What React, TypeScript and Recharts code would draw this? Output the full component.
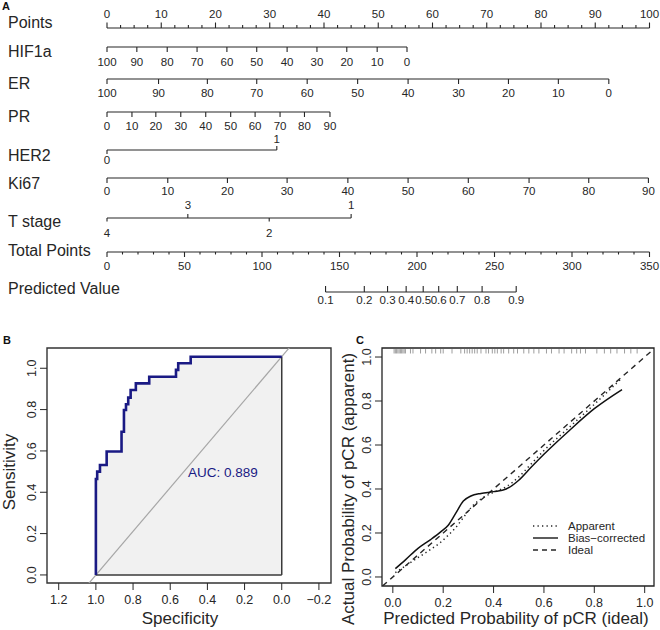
import React from "react";
import {
  Area,
  ComposedChart,
  Label,
  Legend,
  Line,
  LineChart,
  ReferenceArea,
  ReferenceDot,
  ReferenceLine,
  XAxis,
  YAxis,
} from "recharts";

const FONT = "'Liberation Sans', Arial, Helvetica, sans-serif";
const INK = "#262626";
const NAVY = "#1a1a84";

// ---------- A: nomogram (points positions) ----------
const ROW_NAMES = ["Points", "HIF1a", "ER", "PR", "HER2", "Ki67", "T stage", "Total Points", "Predicted Value"];

const POINTS_TICKS = [0, 10, 20, 30, 40, 50, 60, 70, 80, 90, 100];
const HIF1A_VALUES = [100, 90, 80, 70, 60, 50, 40, 30, 20, 10, 0];
const HIF1A_POINTS = [0, 5.5, 11.1, 16.6, 22.1, 27.6, 33.2, 38.7, 44.2, 49.8, 55.3];
const ER_VALUES = [100, 90, 80, 70, 60, 50, 40, 30, 20, 10, 0];
const ER_POINTS = [0, 9.5, 18.5, 27.6, 36.9, 46.2, 55.5, 64.8, 74.0, 83.2, 92.5];
const PR_VALUES = [0, 10, 20, 30, 40, 50, 60, 70, 80, 90];
const PR_POINTS = [0, 4.6, 9.0, 13.6, 18.2, 22.8, 27.3, 31.9, 36.4, 41.1];
const HER2_VALUES = [0, 1];
const HER2_POINTS = [0, 31.3];
const KI67_VALUES = [0, 10, 20, 30, 40, 50, 60, 70, 80, 90];
const KI67_POINTS = [0, 11.2, 22.2, 33.2, 44.4, 55.5, 66.6, 77.8, 88.8, 99.8];
const TSTAGE_VALUES = [4, 3, 2, 1];
const TSTAGE_POINTS = [0, 14.9, 29.9, 45.0];
const TOTAL_TICKS = [0, 50, 100, 150, 200, 250, 300, 350];
const PRED_VALUES = [0.1, 0.2, 0.3, 0.4, 0.5, 0.6, 0.7, 0.8, 0.9];
const PRED_TOTAL = [141, 166, 181, 193, 204, 214, 226, 242, 264];

// layout of the nomogram rows (pixels in the panel)
const NAME_Y = [22, 51, 83, 116, 155, 183, 221, 250, 288];
const LINE_Y = [28, 47, 79, 112, 150, 178, 218, 252, 292];
const A_H = 310;

type Tick = { p: number; y: number; label: string; tick: number; text: number; len: number; gap: number };

const row = (
  r: number,
  pts: number[],
  labels: string[],
  style: (i: number) => { tick: number; text: number; len: number; gap: number }
): Tick[] => pts.map((p, i) => ({ p, y: LINE_Y[r], label: labels[i], ...style(i) }));

const byP = (a: Tick, b: Tick) => a.p - b.p;
const down = { tick: 1, text: 1, len: 5, gap: 14 };

const pointsMinor = POINTS_TICKS.slice(1).flatMap((t) => [t - 7.5, t - 5, t - 2.5]);
const totalMinor = TOTAL_TICKS.slice(1).flatMap((t) => [t - 40, t - 30, t - 20, t - 10]);

const NOMO_ROWS = [
  {
    axis: "pts",
    ticks: [
      ...row(0, POINTS_TICKS, POINTS_TICKS.map(String), () => ({ tick: -1, text: -1, len: 5.5, gap: 14 })),
      ...row(0, pointsMinor, pointsMinor.map(() => ""), () => ({ tick: -1, text: -1, len: 3, gap: 0 })),
    ].sort(byP),
  },
  { axis: "pts", ticks: row(1, HIF1A_POINTS, HIF1A_VALUES.map(String), () => ({ ...down, gap: 14.5 })) },
  { axis: "pts", ticks: row(2, ER_POINTS, ER_VALUES.map(String), () => down) },
  { axis: "pts", ticks: row(3, PR_POINTS, PR_VALUES.map(String), () => down) },
  {
    axis: "pts",
    ticks: row(4, HER2_POINTS, HER2_VALUES.map(String), (i) =>
      i === 0 ? { tick: 1, text: 1, len: 4, gap: 10 } : { tick: -1, text: -1, len: 4, gap: 11 }
    ),
  },
  { axis: "pts", ticks: row(5, KI67_POINTS, KI67_VALUES.map(String), () => ({ ...down, gap: 13 })) },
  {
    axis: "pts",
    ticks: row(6, TSTAGE_POINTS, TSTAGE_VALUES.map(String), (i) =>
      i % 2 === 0 ? { tick: 1, text: 1, len: 3.5, gap: 15 } : { tick: -1, text: -1, len: 4, gap: 13 }
    ),
  },
  {
    axis: "tot",
    ticks: [
      ...row(7, TOTAL_TICKS, TOTAL_TICKS.map(String), () => down),
      ...row(7, totalMinor, totalMinor.map(() => ""), () => ({ tick: 1, text: 1, len: 2.5, gap: 0 })),
    ].sort(byP),
  },
  {
    axis: "tot",
    ticks: row(8, PRED_TOTAL, PRED_VALUES.map((v) => v.toFixed(1)), () => ({ tick: -1, text: 1, len: 6, gap: 8 })),
  },
];

function NomoTick(props: any) {
  const { cx, cy, payload, index } = props;
  if (cx == null || cy == null) return <g key={index} />;
  return (
    <g key={`${payload.y}-${index}`}>
      <line x1={cx} x2={cx} y1={cy} y2={cy + payload.tick * payload.len} stroke={INK} strokeWidth={1.1} />
      {payload.label ? (
        <text
          x={cx}
          y={cy + payload.text * payload.gap}
          textAnchor="middle"
          dominantBaseline="central"
          fontSize={11.5}
          fill={INK}
        >
          {payload.label}
        </text>
      ) : null}
    </g>
  );
}

function Nomogram() {
  return (
    <LineChart width={660} height={A_H} margin={{ top: 0, right: 10.5, bottom: 0, left: 8 }}>
      <XAxis xAxisId="pts" type="number" dataKey="p" domain={[0, 100]} hide />
      <XAxis xAxisId="tot" type="number" dataKey="p" domain={[0, 350]} hide />
      <YAxis
        type="number"
        domain={[0, A_H]}
        reversed
        ticks={NAME_Y}
        interval={0}
        width={99}
        axisLine={false}
        tickLine={false}
        tick={(p: any) => (
          <text key={p.payload.value} x={8} y={p.y} dominantBaseline="central" fontSize={16} fill={INK}>
            {ROW_NAMES[NAME_Y.indexOf(p.payload.value)]}
          </text>
        )}
      />
      {NOMO_ROWS.map((r, i) => (
        <Line
          key={ROW_NAMES[i]}
          data={r.ticks}
          xAxisId={r.axis}
          dataKey="y"
          stroke={INK}
          strokeWidth={1.2}
          dot={NomoTick}
          activeDot={false}
          isAnimationActive={false}
        />
      ))}
    </LineChart>
  );
}

// ---------- B: ROC ----------
const ROC_SPEC = [1.0, 1.0, 0.993, 0.978, 0.942, 0.862, 0.849, 0.838, 0.826, 0.813, 0.785, 0.713, 0.569, 0.557, 0.49, 0.0];
const ROC_SENS = [0.0, 0.464, 0.5, 0.532, 0.597, 0.693, 0.798, 0.826, 0.858, 0.895, 0.927, 0.959, 0.992, 1.024, 1.056, 1.056];
const SPEC_TICKS = [1.2, 1.0, 0.8, 0.6, 0.4, 0.2, 0.0, -0.2];
const SENS_TICKS = [0, 0.2, 0.4, 0.6, 0.8, 1.0];
const AUC_TEXT = "AUC: 0.889";

const ROC_DATA = ROC_SPEC.map((s, i) => ({ spec: s, sens: ROC_SENS[i] }));

const fmt1 = (v: number) => (v < 0 ? "\u2212" + Math.abs(v).toFixed(1) : v.toFixed(1));

function VTick(props: any) {
  const { x, y, payload, shift = 0 } = props;
  const cx = x + shift;
  return (
    <text
      x={cx}
      y={y}
      transform={`rotate(-90 ${cx} ${y})`}
      textAnchor="middle"
      dominantBaseline="central"
      fontSize={12.5}
      fill={INK}
    >
      {fmt1(payload.value)}
    </text>
  );
}

function RocPanel() {
  const xd: [number, number] = [-0.265, 1.263];
  const yd: [number, number] = [-0.039, 1.098];
  return (
    <ComposedChart width={340} height={330} margin={{ top: 48, right: 9, left: 0, bottom: 0 }}>
      <XAxis
        type="number"
        dataKey="spec"
        domain={xd}
        reversed
        allowDataOverflow
        ticks={SPEC_TICKS}
        interval={0}
        tickFormatter={fmt1}
        height={47}
        axisLine={false}
        tickLine={{ stroke: INK }}
        tickSize={7}
        tickMargin={5}
        tick={{ fontSize: 12.5, fill: INK }}
      >
        <Label
          content={() => (
            <text x={180} y={324} textAnchor="middle" fontSize={17} fill={INK}>
              Specificity
            </text>
          )}
        />
      </XAxis>
      <YAxis
        type="number"
        domain={yd}
        allowDataOverflow
        ticks={SENS_TICKS}
        interval={0}
        width={47}
        axisLine={false}
        tickLine={{ stroke: INK }}
        tickSize={7}
        tick={<VTick shift={-6} />}
      >
        <Label
          content={() => (
            <text
              x={9}
              y={172}
              transform="rotate(-90 9 172)"
              textAnchor="middle"
              dominantBaseline="central"
              fontSize={17}
              fill={INK}
            >
              Sensitivity
            </text>
          )}
        />
      </YAxis>
      <Area
        data={ROC_DATA}
        dataKey="sens"
        type="stepAfter"
        fill="#f1f1f1"
        fillOpacity={1}
        stroke="none"
        baseValue={0}
        isAnimationActive={false}
      />
      <ReferenceLine
        segment={[{ x: 1.1, y: -0.106 }, { x: -0.1, y: 1.162 }]}
        stroke="#a6a6a6"
        strokeWidth={1.2}
        ifOverflow="hidden"
      />
      <ReferenceLine segment={[{ x: 0, y: 0 }, { x: 0, y: 1.056 }]} stroke="#3a3a3a" strokeWidth={1.5} />
      <ReferenceLine segment={[{ x: 1, y: 0 }, { x: 0, y: 0 }]} stroke="#3a3a3a" strokeWidth={1.5} />
      <Line
        data={ROC_DATA}
        dataKey="sens"
        type="stepAfter"
        stroke={NAVY}
        strokeWidth={2.6}
        dot={false}
        activeDot={false}
        isAnimationActive={false}
      />
      <ReferenceDot
        x={0.505}
        y={0.498}
        r={0}
        fill="none"
        stroke="none"
        label={{ value: AUC_TEXT, position: "right", offset: 0, fill: NAVY, fontSize: 13.5 }}
      />
      <ReferenceArea x1={xd[0]} x2={xd[1]} y1={yd[0]} y2={yd[1]} fill="none" stroke="#333" strokeWidth={1.4} />
    </ComposedChart>
  );
}

// ---------- C: calibration ----------
const CAL_X = [0.01, 0.05, 0.1, 0.15, 0.19, 0.22, 0.25, 0.28, 0.31, 0.35, 0.4, 0.45, 0.5, 0.55, 0.6, 0.7, 0.8, 0.91];
const CAL_APPARENT = [0.02, 0.05, 0.088, 0.125, 0.158, 0.19, 0.225, 0.27, 0.315, 0.355, 0.385, 0.41, 0.455, 0.515, 0.575, 0.68, 0.785, 0.905];
const CAL_BIAS = [0.038, 0.078, 0.13, 0.17, 0.205, 0.235, 0.29, 0.345, 0.368, 0.38, 0.388, 0.4, 0.44, 0.5, 0.558, 0.665, 0.765, 0.852];
const RUG = [
  0.005, 0.01, 0.015, 0.02, 0.025, 0.03, 0.035, 0.04, 0.045, 0.05, 0.07, 0.08, 0.11, 0.13, 0.155, 0.17, 0.19, 0.2,
  0.235, 0.27, 0.285, 0.295, 0.305, 0.315, 0.325, 0.335, 0.35, 0.37, 0.38, 0.395, 0.405, 0.415, 0.43, 0.44, 0.46,
  0.48, 0.495, 0.52, 0.54, 0.56, 0.58, 0.61, 0.63, 0.66, 0.68, 0.71, 0.73, 0.745, 0.765, 0.81, 0.84, 0.865, 0.89,
  0.92, 0.945, 0.97,
];
const CAL_TICKS = [0, 0.2, 0.4, 0.6, 0.8, 1.0];
const CAL_LEGEND = [
  { name: "Apparent", dash: "1.3 3.2" },
  { name: "Bias\u2212corrected", dash: undefined },
  { name: "Ideal", dash: "5 4" },
];

const CAL_DATA = CAL_X.map((x, i) => ({ x, app: CAL_APPARENT[i], bias: CAL_BIAS[i] }));

function CalLegend() {
  return (
    <svg width={120} height={42} style={{ display: "block" }}>
      {CAL_LEGEND.map((e, i) => (
        <g key={e.name}>
          <line x1={0} x2={25} y1={6 + i * 12} y2={6 + i * 12} stroke={INK} strokeWidth={1.5} strokeDasharray={e.dash} />
          <text x={35} y={6 + i * 12} dominantBaseline="central" fontSize={11.5} fill={INK}>
            {e.name}
          </text>
        </g>
      ))}
    </svg>
  );
}

function CalibrationPanel() {
  const xd: [number, number] = [-0.043, 1.037];
  const yd: [number, number] = [-0.041, 1.041];
  return (
    <ComposedChart width={330} height={330} margin={{ top: 48, right: 6, left: 0, bottom: 0 }}>
      <XAxis
        type="number"
        dataKey="x"
        domain={xd}
        allowDataOverflow
        ticks={CAL_TICKS}
        interval={0}
        tickFormatter={fmt1}
        height={44}
        axisLine={false}
        tickLine={{ stroke: INK }}
        tickSize={7}
        tickMargin={5.5}
        tick={{ fontSize: 12.5, fill: INK }}
      >
        <Label
          content={() => (
            <text x={186} y={324} textAnchor="middle" fontSize={17} fill={INK}>
              Predicted Probability of pCR (ideal)
            </text>
          )}
        />
      </XAxis>
      <YAxis
        type="number"
        domain={yd}
        allowDataOverflow
        ticks={CAL_TICKS}
        interval={0}
        width={52}
        axisLine={false}
        tickLine={{ stroke: INK }}
        tickSize={7}
        tick={<VTick shift={-6.3} />}
      >
        <Label
          content={() => (
            <text
              x={18}
              y={189}
              transform="rotate(-90 18 189)"
              textAnchor="middle"
              dominantBaseline="central"
              fontSize={17}
              fill={INK}
            >
              Actual Probability of pCR (apparent)
            </text>
          )}
        />
      </YAxis>
      {RUG.map((v, i) => (
        <ReferenceLine key={i} segment={[{ x: v, y: 1.016 }, { x: v, y: 1.036 }]} stroke="#9d9d9d" strokeWidth={1} />
      ))}
      <ReferenceLine
        segment={[{ x: -0.1, y: -0.1 }, { x: 1.1, y: 1.1 }]}
        stroke={INK}
        strokeWidth={1.4}
        strokeDasharray="5.5 4.5"
        ifOverflow="hidden"
      />
      <Line
        data={CAL_DATA}
        dataKey="app"
        type="monotone"
        stroke={INK}
        strokeWidth={1.5}
        strokeDasharray="1.3 3.2"
        dot={false}
        activeDot={false}
        isAnimationActive={false}
      />
      <Line
        data={CAL_DATA}
        dataKey="bias"
        type="monotone"
        stroke="#111"
        strokeWidth={1.5}
        dot={false}
        activeDot={false}
        isAnimationActive={false}
      />
      <ReferenceArea x1={xd[0]} x2={xd[1]} y1={yd[0]} y2={yd[1]} fill="none" stroke="#222" strokeWidth={1.3} />
      <Legend
        layout="vertical"
        align="center"
        verticalAlign="middle"
        content={() => <CalLegend />}
        wrapperStyle={{ left: 203, top: 220, width: 120, height: 42 }}
      />
    </ComposedChart>
  );
}

const panelLabel = (text: string, left: number, top: number) => (
  <div style={{ position: "absolute", left, top, fontSize: 11, fontWeight: 700, lineHeight: "12px", color: "#111" }}>
    {text}
  </div>
);

export default function App() {
  return (
    <div
      style={{
        position: "absolute",
        left: 0,
        top: 0,
        width: 660,
        height: 630,
        background: "#fff",
        fontFamily: FONT,
        overflow: "hidden",
      }}
    >
      <div style={{ position: "absolute", left: 0, top: 0 }}>
        <Nomogram />
      </div>
      <div style={{ position: "absolute", left: 0, top: 300 }}>
        <RocPanel />
      </div>
      <div style={{ position: "absolute", left: 330, top: 300 }}>
        <CalibrationPanel />
      </div>
      {panelLabel("A", 2, 0)}
      {panelLabel("B", 3, 334)}
      {panelLabel("C", 356, 334)}
    </div>
  );
}
